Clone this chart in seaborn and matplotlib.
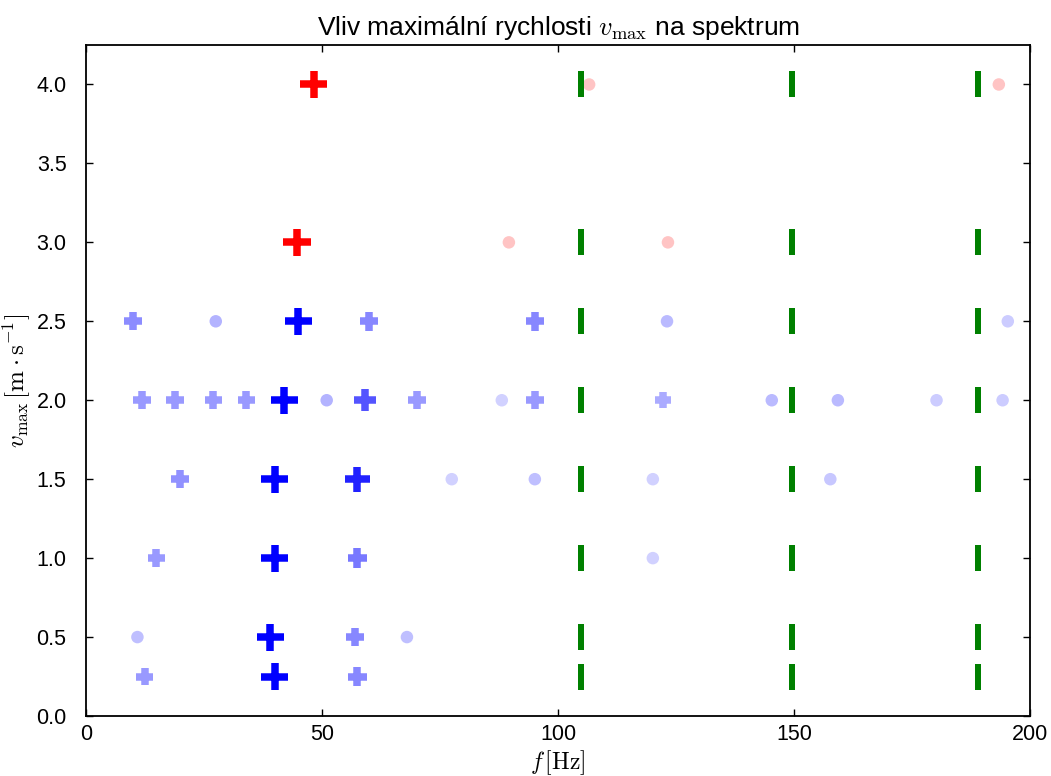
import numpy as np
import pandas as pd
import matplotlib
matplotlib.use("Agg")
import matplotlib.pyplot as plt
import seaborn as sns

# ---- data: spectral peaks (frequency f [Hz], relative amplitude) per v_max level ----
v_levels = [0.25, 0.5, 1.0, 1.5, 2.0, 2.5, 3.0, 4.0]

f_025 = [12.4, 40.0, 57.5]
a_025 = [0.40, 1.00, 0.47]
f_050 = [10.9, 39.0, 57.0, 68.0]
a_050 = [0.25, 1.00, 0.47, 0.25]
f_100 = [14.9, 40.0, 57.5, 120.1]
a_100 = [0.40, 1.00, 0.53, 0.18]
f_150 = [19.9, 40.0, 57.5, 77.5, 95.1, 120.1, 157.7]
a_150 = [0.43, 1.00, 0.87, 0.18, 0.25, 0.18, 0.22]
f_200 = [11.9, 18.9, 27.0, 34.0, 42.0, 51.0, 59.1, 70.1, 88.1, 95.1, 122.2, 145.3, 159.3, 180.2, 194.2]
a_200 = [0.40, 0.40, 0.40, 0.40, 1.00, 0.30, 0.67, 0.40, 0.18, 0.40, 0.33, 0.27, 0.27, 0.20, 0.20]
f_250 = [9.9, 27.5, 45.0, 60.0, 95.1, 123.1, 195.3]
a_250 = [0.45, 0.30, 1.00, 0.47, 0.47, 0.27, 0.20]
f_300 = [44.7, 89.6, 123.3]
a_300 = [1.00, 0.23, 0.23]
f_400 = [48.3, 106.6, 193.4]
a_400 = [1.00, 0.23, 0.23]

row_f = [f_025, f_050, f_100, f_150, f_200, f_250, f_300, f_400]
row_a = [a_025, a_050, a_100, a_150, a_200, a_250, a_300, a_400]
row_set = ["A", "A", "A", "A", "A", "A", "B", "B"]   # measurement set

# reference (noise) frequencies marked at every level
ref_f = [104.9, 149.6, 189.0]

xticks = [0, 50, 100, 150, 200]
yticks = [0.0, 0.5, 1.0, 1.5, 2.0, 2.5, 3.0, 3.5, 4.0]

# ---- build tables ----
rows = []
for v, fs, as_, s in zip(v_levels, row_f, row_a, row_set):
    for f, a in zip(fs, as_):
        rows.append({"f": f, "v": v, "amp": a, "set": s})
peaks = pd.DataFrame(rows)
refs = pd.DataFrame([{"f": f, "v": v} for v in v_levels for f in ref_f])

# ---- style ----
sns.set_theme(style="ticks", rc={
    "xtick.direction": "in", "ytick.direction": "in",
    "xtick.top": True, "ytick.right": True,
    "xtick.major.size": 5, "ytick.major.size": 5,
    "xtick.major.width": 1.0, "ytick.major.width": 1.0,
    "axes.linewidth": 1.3, "axes.edgecolor": "black",
    "xtick.color": "black", "ytick.color": "black",
    "text.color": "black", "axes.labelcolor": "black",
    "xtick.major.pad": 6, "ytick.major.pad": 14,
})
plt.rcParams["font.family"] = ["Liberation Sans", "DejaVu Sans"]
plt.rcParams["mathtext.fontset"] = "cm"

fig, ax = plt.subplots(figsize=(10.51, 7.76), dpi=100)
fig.subplots_adjust(left=0.0818, right=0.980, bottom=0.0773, top=0.942)

base = {"A": np.array([0.0, 0.0, 1.0]), "B": np.array([1.0, 0.0, 0.0])}
px = 0.72  # points per pixel at 100 dpi


def tint(df):
    cols = []
    for a, s in zip(df["amp"], df["set"]):
        c = 1.0 - a * (1.0 - base[s])
        cols.append(tuple(c) + (1.0,))
    return cols


strong = peaks[peaks["amp"] >= 0.32].reset_index(drop=True)
weak = peaks[peaks["amp"] < 0.32].reset_index(drop=True)

# weak peaks: small dots
sns.scatterplot(data=weak, x="f", y="v", marker="o", s=(12.5 * px) ** 2,
                linewidth=0, color="blue", legend=False, ax=ax)
coll = ax.collections[-1]
coll.set_facecolors(tint(weak))
coll.set_edgecolors("none")

# strong peaks: bold crosses sized by amplitude
sns.scatterplot(data=strong, x="f", y="v", marker="+", s=100,
                linewidth=7.5 * px, color="blue", legend=False, ax=ax)
coll = ax.collections[-1]
coll.set_sizes(((11.1 + 16.0 * strong["amp"].to_numpy()) * px) ** 2)
coll.set_edgecolors(tint(strong))
coll.set_linewidths(7.5 * px)

# reference frequencies
sns.scatterplot(data=refs, x="f", y="v", marker="|", s=(27 * px) ** 2,
                linewidth=6 * px, color="green", legend=False, ax=ax)

ax.set_xlim(0, 200)
ax.set_ylim(0, 4.25)
ax.set_xticks(xticks)
ax.set_yticks(yticks)
ax.set_yticklabels([f"{t:.1f}" for t in yticks])
ax.tick_params(labelsize=15.5)
ax.set_title(r"Vliv maximální rychlosti $v_{\mathrm{max}}$ na spektrum", fontsize=19, pad=7)
ax.set_xlabel(r"$f\,[\mathrm{Hz}]$", fontsize=17, labelpad=2)
ax.set_ylabel(r"$v_{\mathrm{max}}\,[\mathrm{m}\cdot\mathrm{s}^{-1}]$", fontsize=18, labelpad=2)
for sp in ax.spines.values():
    sp.set_visible(True)

fig.savefig("out.png", dpi=100)
